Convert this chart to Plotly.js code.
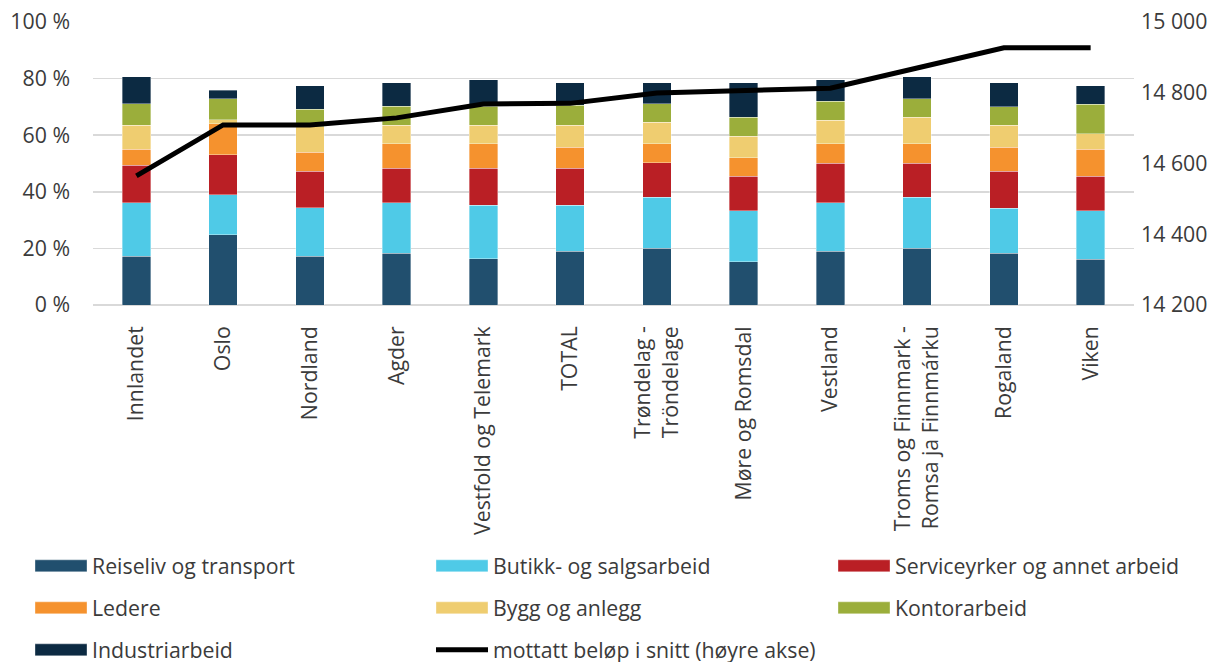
<!DOCTYPE html>
<html>
<head>
<meta charset="utf-8">
<script src="https://cdn.plot.ly/plotly-3.0.1.min.js"></script>
<style>html,body{margin:0;padding:0;background:#fff;}#chart{width:1225px;height:662px;}</style>
</head>
<body>
<div id="chart"></div>
<script>
var categories = ["Innlandet","Oslo","Nordland","Agder","Vestfold og Telemark","TOTAL","Trøndelag -<br>Tröndelage","Møre og Romsdal","Vestland","Troms og Finnmark -<br>Romsa ja Finnmárku","Rogaland","Viken"];
var reiseliv  = [17.2, 24.8, 17.2, 18.3, 16.3, 19.0, 20.0, 15.3, 19.0, 20.0, 18.2, 16.1];
var butikk    = [18.9, 14.1, 17.1, 17.8, 18.9, 16.2, 18.1, 18.0, 17.1, 18.0, 16.0, 17.2];
var service   = [13.2, 14.2, 13.0, 12.3, 13.2, 13.2, 12.2, 12.2, 14.0, 12.1, 13.1, 12.2];
var ledere    = [5.7, 11.0, 6.7, 8.5, 8.5, 7.4, 6.6, 6.6, 6.8, 6.8, 8.5, 9.5];
var bygg      = [8.5, 1.4, 8.9, 6.6, 6.6, 7.7, 7.6, 7.6, 8.4, 9.4, 7.7, 5.6];
var kontor    = [7.7, 7.4, 6.2, 6.7, 6.7, 7.1, 6.7, 6.6, 6.7, 6.6, 6.6, 10.4];
var industri  = [9.4, 2.9, 8.4, 8.4, 9.4, 8.0, 7.4, 12.3, 7.6, 7.7, 8.5, 6.5];
var belop     = [14565, 14709, 14709, 14729, 14768, 14770, 14799, 14806, 14813, 14870, 14927, 14927];

var seriesNames = ["Reiseliv og transport","Butikk- og salgsarbeid","Serviceyrker og annet arbeid","Ledere","Bygg og anlegg","Kontorarbeid","Industriarbeid"];
var lineName = "mottatt beløp i snitt (høyre akse)";
var seriesData = [reiseliv, butikk, service, ledere, bygg, kontor, industri];
var colors = ["#214f6e","#4fcae7","#ba1f25","#f5922e","#efcd70","#9bae3b","#0c2a42"];

var txtColor = "#3b3b3b";
var font = {family: "Open Sans, sans-serif", size: 21.3, color: txtColor};

// legend grid: 3 columns x 3 rows
var colX = [30, 431, 833];
var rowY = [566, 608, 650];

var traces = [];
var legends = {};
function legendId(k) { return k === 0 ? "legend" : "legend" + (k + 1); }
function makeLegend(k) {
  var col = k % 3, row = Math.floor(k / 3);
  legends[legendId(k)] = {
    orientation: "h", xref: "container", yref: "container",
    x: colX[col] / 1225, y: 1 - rowY[row] / 662, xanchor: "left", yanchor: "middle",
    itemwidth: 52, traceorder: "normal", font: font, bgcolor: "rgba(0,0,0,0)",
    borderwidth: 0
  };
}
for (var i = 0; i < seriesNames.length; i++) {
  makeLegend(i);
  traces.push({
    type: "bar",
    name: seriesNames[i],
    x: categories,
    y: seriesData[i],
    marker: {color: colors[i], line: {color: "rgba(255,255,255,0.6)", width: 0.6}},
    legend: legendId(i),
    hoverinfo: "skip"
  });
}
makeLegend(7);
traces.push({
  type: "scatter",
  mode: "lines",
  name: lineName,
  x: categories,
  y: belop,
  yaxis: "y2",
  line: {color: "#000000", width: 5},
  legend: legendId(7),
  hoverinfo: "skip"
});

var layout = {
  width: 1225, height: 662,
  margin: {l: 93, r: 91, t: 22, b: 357},
  paper_bgcolor: "#ffffff", plot_bgcolor: "#ffffff",
  font: font,
  separators: ", ",
  barmode: "stack",
  bargap: 0.67,
  showlegend: true,
  xaxis: {
    tickangle: -90, tickfont: font, showgrid: false, zeroline: false,
    showline: false, ticks: "", automargin: false, ticklabelstandoff: 16
  },
  yaxis: {
    range: [0, 100], dtick: 20, ticksuffix: " %", tickfont: font,
    showgrid: true, gridcolor: "#d9d9d9", gridwidth: 1.5,
    zeroline: true, zerolinecolor: "#d9d9d9", zerolinewidth: 1.5,
    ticks: "", automargin: false, ticklabelstandoff: 22
  },
  yaxis2: {
    overlaying: "y", side: "right", range: [14200, 15000], dtick: 200,
    tickformat: ",.0f", tickfont: font, showgrid: false, zeroline: false,
    ticks: "", automargin: false, ticklabelstandoff: 6
  }
};
for (var key in legends) layout[key] = legends[key];

var gdEl = document.getElementById("chart");
function widenSwatches() {
  // widen the bar legend swatches to match the reference's wide rectangles
  var paths = gdEl.querySelectorAll("g.legendpoints path");
  for (var j = 0; j < paths.length; j++) {
    var d = paths[j].getAttribute("d") || "";
    if (/^M6,6H-6V-6H6Z/.test(d) || paths[j].classList.contains("legendbar")) {
      paths[j].setAttribute("d", "M26,6H-26V-6H26Z");
    }
  }
}
Plotly.newPlot(gdEl, traces, layout, {displayModeBar: false, staticPlot: true}).then(function () {
  widenSwatches();
  setTimeout(widenSwatches, 0);
  setTimeout(widenSwatches, 50);
});
gdEl.on && gdEl.on("plotly_afterplot", widenSwatches);
</script>
</body>
</html>
